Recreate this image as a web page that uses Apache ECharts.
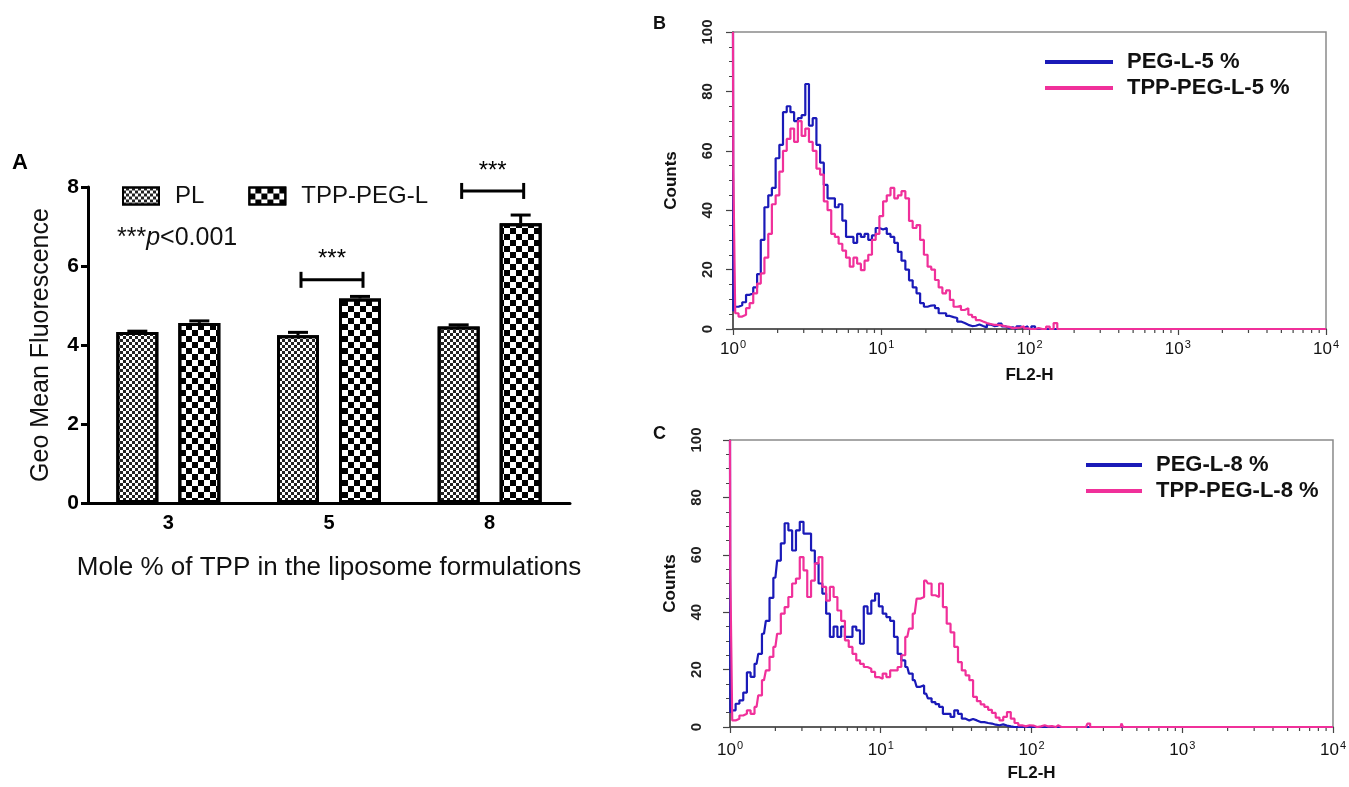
<!DOCTYPE html>
<html>
<head>
<meta charset="utf-8">
<script src="https://cdn.jsdelivr.net/npm/echarts@6.0.0/dist/echarts.min.js"></script>
<style>
  html, body { margin: 0; padding: 0; background: #fff; }
  #main { width: 1349px; height: 787px; }
</style>
</head>
<body>
<div id="main"></div>
<script>
  // panel A: geo mean fluorescence
  var moleCats = ['3', '5', '8'];
  var plMeans = [4.33, 4.25, 4.47];
  var plErr = [0.02, 0.07, 0.04];
  var tppMeans = [4.56, 5.18, 7.08];
  var tppErr = [0.05, 0.05, 0.21];
  var sigCats = ['5', '8'];
  var sigLevels = [5.65, 7.9];
  var sigLabels = ['***', '***'];

  // panels B and C: FL2-H histograms (x = FL2-H, y = counts)
  var fl2 = [
    1.00, 1.01, 1.06, 1.12, 1.19, 1.26, 1.33, 1.41, 1.50, 1.58,
    1.68, 1.78, 1.88, 2.00, 2.11, 2.24, 2.37, 2.51, 2.66, 2.82,
    2.99, 3.16, 3.35, 3.55, 3.76, 3.98, 4.22, 4.47, 4.73, 5.01,
    5.31, 5.62, 5.96, 6.31, 6.68, 7.08, 7.50, 7.94, 8.41, 8.91,
    9.44, 10.0, 10.6, 11.2, 11.9, 12.6, 13.3, 14.1, 15.0, 15.8,
    16.8, 17.8, 18.8, 20.0, 21.1, 22.4, 23.7, 25.1, 26.6, 28.2,
    29.9, 31.6, 33.5, 35.5, 37.6, 39.8, 42.2, 44.7, 47.3, 50.1,
    53.1, 56.2, 59.6, 63.1, 66.8, 70.8, 75.0, 79.4, 84.1, 89.1,
    94.4, 100, 106, 112, 119, 126, 133, 141, 150, 158,
    200, 230, 240, 250, 300, 390, 400, 410, 1000, 10000
  ];
  var peg5 = [
    100, 6, 7.5, 8, 9, 11.5, 12, 14, 18.5, 30,
    41, 45, 47.5, 57.5, 62, 73, 75, 73, 70, 71,
    72, 82.5, 68.5, 71, 62, 56, 48.5, 44, 44, 41,
    42, 36.5, 31, 31, 29, 32, 31, 32, 30, 31.5,
    34, 33.5, 34, 32, 31, 29, 26, 23, 20, 16.4,
    14, 12, 8.7, 7.5, 7.9, 8, 7, 5.3, 5.3, 4.4,
    4, 3.7, 2.5, 2, 1.4, 1, 1.1, 1.5, 1, 0.5,
    1.5, 1, 1.1, 1.8, 0.9, 0.3, 0.6, 0, 0.9, 0.3,
    0.9, 0, 0.9, 0, 0, 0, 0, 0, 0, 0,
    0, 0, 0, 0, 0, 0, 0, 0, 0, 0
  ];
  var tppPeg5 = [
    100, 53, 5.3, 4.2, 4.8, 7, 8.7, 12, 15.3, 18.7,
    24, 32, 42, 45, 53, 60, 64, 67.5, 63, 70,
    65, 67.5, 63, 60, 54, 52, 43, 40, 32, 31,
    28.7, 26.4, 24, 21, 24, 22, 19.8, 23, 25, 30,
    32, 38, 43, 45, 47.5, 44, 45, 46.4, 44, 36.4,
    34, 35, 30, 25, 21, 20, 16.5, 14, 12, 13,
    9.8, 7.5, 7.8, 6.4, 7, 4.8, 4, 3, 2.5, 2,
    1.7, 1.4, 1.4, 1.2, 0.9, 0.7, 0.3, 0.4, 0.5, 0.9,
    0.2, 0, 0, 0.3, 0, 0, 0.8, 0, 2, 0,
    0, 0, 0, 0, 0, 0, 0, 0, 0, 0
  ];
  var peg8 = [
    100, 5, 5.8, 8.1, 9.3, 12, 19, 17.5, 22, 25.5,
    32.5, 37, 45, 52, 58, 64, 71, 68.5, 61.5, 68.5,
    71.5, 67.4, 67.4, 61.5, 57, 50, 46.5, 39.5, 31.4, 35,
    31.4, 35, 31.4, 31.4, 35, 33.7, 29, 42, 39.5, 44,
    46.5, 42, 39.5, 38.3, 37, 31.4, 25.5, 23.2, 20.9, 18.6,
    16.3, 14, 14.5, 11.6, 10, 8.7, 8, 7, 4.6, 4.6,
    3.5, 5.8, 4.6, 2.9, 2.3, 2.8, 2.3, 1.7, 1.7, 1.4,
    1.2, 0.8, 0.6, 0.9, 0.5, 0.2, 0, 0, 0, 0,
    0, 0, 0, 0, 0, 0, 0, 0, 0, 0,
    0, 0, 0, 0, 0, 0, 0, 0, 0, 0
  ];
  var tppPeg8 = [
    100, 53, 2.3, 2.9, 4, 4.6, 5.8, 4.6, 7, 11,
    16.3, 19.7, 24.4, 27.9, 32.5, 39.5, 41.8, 45.3, 50, 51.7,
    59.2, 54.6, 45.3, 51, 57, 59.2, 48.8, 44, 48.8, 45.3,
    40.6, 37, 30.2, 27.9, 25.5, 23.2, 22, 20.9, 20.3, 19.2,
    17.4, 16.8, 18.6, 17.4, 19.7, 19.7, 20.9, 25, 31.4, 34.3,
    39.5, 44.7, 45.3, 51, 50, 45.9, 45.3, 50, 41.8, 36,
    33, 27.9, 22.6, 19.7, 18, 16.3, 10.5, 9, 7.9, 7,
    6, 4.9, 3.3, 2.3, 3.5, 5.2, 2.9, 1.4, 0.6, 0.2,
    0.6, 0.5, 0, 0.2, 0.6, 0.2, 0.3, 0, 0.6, 0,
    0, 0, 1.2, 0, 0, 0, 1.2, 0, 0, 0
  ];
  var logMinorTicks = [
    2, 3, 4, 5, 6, 7, 8, 9,
    20, 30, 40, 50, 60, 70, 80, 90,
    200, 300, 400, 500, 600, 700, 800, 900,
    2000, 3000, 4000, 5000, 6000, 7000, 8000, 9000
  ];

  var FONT = '"Liberation Sans", Arial, sans-serif';
  var BLUE = '#1a1ab8';
  var PINK = '#f0309a';
  var barW = 42;
  var barGapPx = 20;
  var barOffset = (barW + barGapPx) / 2;

  function pairs (xs, ys) {
    var out = [];
    for (var i = 0; i < xs.length; i++) {
      out.push([xs[i], ys[i]]);
    }
    return out;
  }

  function decadeLabel (v) {
    return '10{sup|' + Math.round(Math.log(v) / Math.LN10) + '}';
  }

  var errData = [];
  for (var i = 0; i < moleCats.length; i++) {
    errData.push([i, plMeans[i], plErr[i], -barOffset]);
    errData.push([i, tppMeans[i], tppErr[i], barOffset]);
  }
  var sigData = [];
  for (var j = 0; j < sigCats.length; j++) {
    sigData.push([moleCats.indexOf(sigCats[j]), sigLevels[j], sigLabels[j]]);
  }
  var minorData = logMinorTicks.map(function (v) { return [v, 0]; });

  function logXAxis (gridIndex, labelMargin) {
    return {
      gridIndex: gridIndex,
      type: 'log',
      logBase: 10,
      min: 1,
      max: 10000,
      axisLine: { show: true, onZero: false, lineStyle: { color: '#444', width: 1.5 } },
      axisTick: { show: true, length: 6, lineStyle: { color: '#444', width: 1.2 } },
      splitLine: { show: false },
      axisLabel: {
        formatter: decadeLabel,
        color: '#111',
        fontSize: 17,
        fontFamily: FONT,
        margin: labelMargin,
        rich: {
          sup: { fontSize: 11, fontFamily: FONT, color: '#111', padding: [0, 0, 10, 1] }
        }
      },
      name: 'FL2-H',
      nameLocation: 'middle',
      nameGap: 38,
      nameTextStyle: { fontSize: 17, fontWeight: 'bold', color: '#111', fontFamily: FONT }
    };
  }

  function countYAxis (gridIndex, labelMargin, nameGap) {
    return {
      gridIndex: gridIndex,
      type: 'value',
      min: 0,
      max: 100,
      interval: 20,
      axisLine: { show: true, lineStyle: { color: '#444', width: 1.5 } },
      axisTick: { show: true, length: 7, lineStyle: { color: '#444', width: 1.2 } },
      minorTick: { show: true, splitNumber: 4, length: 4, lineStyle: { color: '#444' } },
      splitLine: { show: false },
      axisLabel: {
        rotate: 90,
        color: '#222',
        fontSize: 15,
        fontWeight: 'bold',
        fontFamily: FONT,
        margin: labelMargin
      },
      name: 'Counts',
      nameLocation: 'middle',
      nameGap: nameGap,
      nameTextStyle: { fontSize: 17, fontWeight: 'bold', color: '#111', fontFamily: FONT }
    };
  }

  function histSeries (name, gridIndex, ys, color) {
    return {
      name: name,
      type: 'line',
      xAxisIndex: gridIndex,
      yAxisIndex: gridIndex,
      step: 'middle',
      showSymbol: false,
      data: pairs(fl2, ys),
      lineStyle: { color: color, width: 2.2 },
      itemStyle: { color: color }
    };
  }

  function minorTickSeries (gridIndex) {
    return {
      type: 'custom',
      xAxisIndex: gridIndex,
      yAxisIndex: gridIndex,
      silent: true,
      data: minorData,
      renderItem: function (params, api) {
        var p = api.coord([api.value(0), 0]);
        return {
          type: 'line',
          shape: { x1: p[0], y1: p[1], x2: p[0], y2: p[1] + 4 },
          style: { stroke: '#444', lineWidth: 1.2 }
        };
      }
    };
  }

  function lineLegend (names, left, top, itemWidth) {
    return {
      data: names,
      orient: 'vertical',
      left: left,
      top: top,
      padding: 0,
      icon: 'rect',
      itemWidth: itemWidth,
      itemHeight: 4,
      itemGap: 4,
      selectedMode: false,
      textStyle: { fontSize: 22, fontWeight: 'bold', color: '#111', fontFamily: FONT, padding: [0, 0, 0, 9] }
    };
  }

  var myChart = echarts.init(document.getElementById('main'));
  myChart.setOption({
    animation: false,
    backgroundColor: '#fff',
    textStyle: { fontFamily: FONT },
    grid: [
      { left: 88, top: 187, width: 482, height: 316 },
      { left: 733, top: 32, width: 593, height: 297, show: true, borderColor: '#8a8a8a', borderWidth: 1.5 },
      { left: 730, top: 440, width: 609, height: 287, show: true, borderColor: '#8a8a8a', borderWidth: 1.5 }
    ],
    legend: [
      {
        data: ['PL', 'TPP-PEG-L'],
        left: 122,
        top: 184,
        padding: 0,
        icon: 'rect',
        itemWidth: 36,
        itemHeight: 17,
        itemGap: 44,
        selectedMode: false,
        textStyle: { fontSize: 24, color: '#111', fontFamily: FONT, padding: [0, 0, 0, 11] }
      },
      lineLegend(['PEG-L-5 %', 'TPP-PEG-L-5 %'], 1045, 51, 68),
      lineLegend(['PEG-L-8 %', 'TPP-PEG-L-8 %'], 1086, 454, 56)
    ],
    xAxis: [
      {
        gridIndex: 0,
        type: 'category',
        data: moleCats,
        axisLine: { lineStyle: { color: '#000', width: 3 } },
        axisTick: { alignWithLabel: true, length: 8, lineStyle: { color: '#000', width: 2.5 } },
        axisLabel: { fontSize: 20, fontWeight: 'bold', color: '#000', fontFamily: FONT, margin: 10 },
        name: 'Mole % of TPP in the liposome formulations',
        nameLocation: 'middle',
        nameGap: 52,
        nameTextStyle: { fontSize: 26, color: '#111', fontFamily: FONT }
      },
      logXAxis(1, 10),
      logXAxis(2, 13)
    ],
    yAxis: [
      {
        gridIndex: 0,
        type: 'value',
        min: 0,
        max: 8,
        interval: 2,
        axisLine: { show: true, lineStyle: { color: '#000', width: 3 } },
        axisTick: { show: true, length: 7, lineStyle: { color: '#000', width: 3 } },
        splitLine: { show: false },
        axisLabel: { fontSize: 21, fontWeight: 'bold', color: '#000', fontFamily: FONT, margin: 9 },
        name: 'Geo Mean Fluorescence',
        nameLocation: 'middle',
        nameGap: 34,
        nameTextStyle: { fontSize: 25, color: '#111', fontFamily: FONT }
      },
      countYAxis(1, 18, 53),
      countYAxis(2, 26, 51)
    ],
    series: [
      {
        name: 'PL',
        type: 'bar',
        xAxisIndex: 0,
        yAxisIndex: 0,
        data: plMeans,
        barWidth: barW,
        barGap: (barGapPx / barW * 100) + '%',
        itemStyle: {
          color: '#fff',
          borderColor: '#000',
          borderWidth: 3,
          decal: { symbol: 'rect', symbolSize: 1, color: '#222', dashArrayX: [[3, 3], [0, 3, 3, 0]], dashArrayY: [3, 0], rotation: 0 }
        }
      },
      {
        name: 'TPP-PEG-L',
        type: 'bar',
        xAxisIndex: 0,
        yAxisIndex: 0,
        data: tppMeans,
        barWidth: barW,
        itemStyle: {
          color: '#fff',
          borderColor: '#000',
          borderWidth: 3,
          decal: { symbol: 'rect', symbolSize: 1, color: '#000', dashArrayX: [[6, 6], [0, 6, 6, 0]], dashArrayY: [6, 0], rotation: 0 }
        }
      },
      {
        type: 'custom',
        xAxisIndex: 0,
        yAxisIndex: 0,
        silent: true,
        z: 5,
        data: errData,
        renderItem: function (params, api) {
          var base = api.coord([api.value(0), api.value(1)]);
          var top = api.coord([api.value(0), api.value(1) + api.value(2)]);
          var x = base[0] + api.value(3);
          return {
            type: 'group',
            children: [
              { type: 'line', shape: { x1: x, y1: base[1], x2: x, y2: top[1] }, style: { stroke: '#000', lineWidth: 3 } },
              { type: 'line', shape: { x1: x - 10, y1: top[1], x2: x + 10, y2: top[1] }, style: { stroke: '#000', lineWidth: 3 } }
            ]
          };
        }
      },
      {
        type: 'custom',
        xAxisIndex: 0,
        yAxisIndex: 0,
        silent: true,
        z: 5,
        data: sigData,
        renderItem: function (params, api) {
          var c = api.coord([api.value(0), api.value(1)]);
          var x1 = c[0] - barOffset + 3;
          var x2 = c[0] + barOffset + 3;
          return {
            type: 'group',
            children: [
              { type: 'line', shape: { x1: x1, y1: c[1], x2: x2, y2: c[1] }, style: { stroke: '#000', lineWidth: 3 } },
              { type: 'line', shape: { x1: x1, y1: c[1] - 8, x2: x1, y2: c[1] + 8 }, style: { stroke: '#000', lineWidth: 3 } },
              { type: 'line', shape: { x1: x2, y1: c[1] - 8, x2: x2, y2: c[1] + 8 }, style: { stroke: '#000', lineWidth: 3 } },
              {
                type: 'text',
                x: c[0] + 3,
                y: c[1] - 8,
                style: { text: sigData[params.dataIndex][2], fill: '#000', font: '24px ' + FONT, textAlign: 'center', textVerticalAlign: 'bottom' }
              }
            ]
          };
        }
      },
      histSeries('PEG-L-5 %', 1, peg5, BLUE),
      histSeries('TPP-PEG-L-5 %', 1, tppPeg5, PINK),
      histSeries('PEG-L-8 %', 2, peg8, BLUE),
      histSeries('TPP-PEG-L-8 %', 2, tppPeg8, PINK),
      minorTickSeries(1),
      minorTickSeries(2)
    ],
    graphic: [
      { type: 'text', left: 12, top: 152, style: { text: 'A', font: 'bold 22px ' + FONT, fill: '#000' } },
      {
        type: 'text',
        left: 117,
        top: 226,
        style: {
          text: '***{i|p}<0.001',
          font: '25px ' + FONT,
          fill: '#111',
          rich: { i: { fontStyle: 'italic', fontSize: 25, fontFamily: FONT } }
        }
      },
      { type: 'text', left: 653, top: 15, style: { text: 'B', font: 'bold 18px ' + FONT, fill: '#111' } },
      { type: 'text', left: 653, top: 425, style: { text: 'C', font: 'bold 18px ' + FONT, fill: '#111' } }
    ]
  });
</script>
</body>
</html>
